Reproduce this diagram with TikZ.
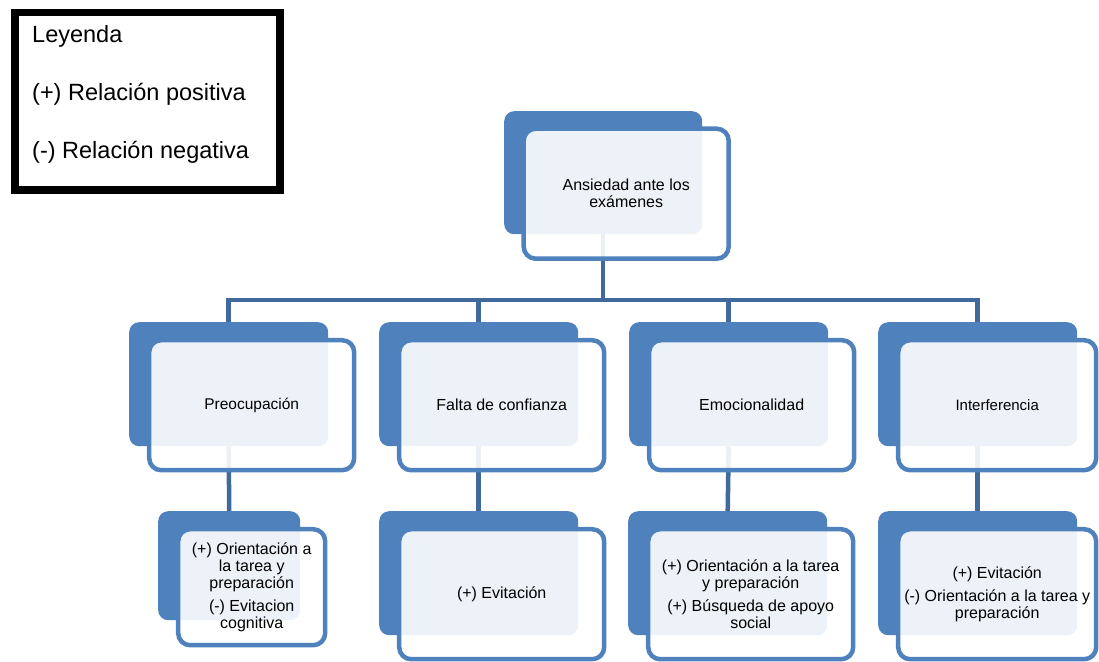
\documentclass[tikz,border=0pt]{standalone}
\usepackage{fontspec}
\setmainfont{Liberation Sans}
\definecolor{boxblue}{RGB}{79,129,189}
\definecolor{connblue}{RGB}{65,106,156}
\tikzset{
  back box/.style ={rectangle, rounded corners=10pt, fill=boxblue,
                    inner sep=0, anchor=north west,
                    minimum width=199pt, minimum height=124pt},
  front box/.style ={rectangle, rounded corners=12pt, draw=boxblue,
                     line width=4.5pt, fill=white, fill opacity=.9,
                     text opacity=1, align=center, inner sep=2pt,
                     minimum width=205pt, minimum height=130pt,
                     font=\fontsize{16}{17}\selectfont},
  conn/.style ={draw=connblue, line width=4.5pt, line join=miter},
  legend frame/.style ={rectangle, draw=black, line width=7.5pt,
                        anchor=north west, inner sep=0,
                        minimum width=265pt, minimum height=177pt},
  legend text/.style ={anchor=base west, inner sep=0,
                       font=\fontsize{23.5}{27}\selectfont},
}
\begin{document}
\begin{tikzpicture}[x=1pt,y=-1pt]
\useasboundingbox (0,0) rectangle (1099,661);
% leyenda
\node[legend frame] (legend) at (11,9) {};
\node[legend text] (ley0) at (32,42) {Leyenda};
\node[legend text] (ley1) at (32,100) {(+) Relación positiva};
\node[legend text] (ley2) at (32,158) {(-) Relación negativa};
% cajas de fondo
\node[back box, minimum width=198pt, minimum height=123pt] (ansiedad) at (504,111) {};
\node[back box] (preo) at (129,322) {};
\node[back box] (falta) at (379,322) {};
\node[back box] (emoc) at (629,322) {};
\node[back box] (inter) at (878,322) {};
\node[back box, minimum width=142pt, minimum height=109pt] (preo3) at (158,511) {};
\node[back box] (falta3) at (379,511) {};
\node[back box] (emoc3) at (628,511) {};
\node[back box] (inter3) at (878,511) {};
% conectores
\coordinate (bus) at (0,300);
\draw[conn] (ansiedad.south) -- (ansiedad.south |- bus);
\draw[conn] (preo.north) -- (preo.north |- bus) -- (inter.north |- bus) -- (inter.north);
\draw[conn] (falta.north) -- (falta.north |- bus);
\draw[conn] (emoc.north) -- (emoc.north |- bus);
\draw[conn] (preo.south) -- (preo3.north);
\draw[conn] (falta.south) -- (falta3.north);
\draw[conn] (emoc.south) -- (emoc3.north);
\draw[conn] (inter.south) -- (inter3.north);
% cajas de frente
\node[front box] (ansiedadT) at ([shift={(23,21)}]ansiedad.center) {Ansiedad ante los\\exámenes};
\node[front box, font=\fontsize{15.5}{17}\selectfont] (preoT) at ([shift={(23,21)}]preo.center) {Preocupación};
\node[front box] (faltaT) at ([shift={(23,21)}]falta.center) {Falta de confianza};
\node[front box] (emocT) at ([shift={(23,21)}]emoc.center) {Emocionalidad};
\node[front box, minimum width=198pt, font=\fontsize{15}{17}\selectfont] (interT) at ([shift={(19.5,21)}]inter.center) {Interferencia};
\node[front box, minimum width=147pt, minimum height=116pt] (preo3T) at ([shift={(22.5,21.5)}]preo3.center)
  {(+) Orientación a\\la tarea y\\preparación\\[6pt](-) Evitacion\\cognitiva};
\node[front box] (falta3T) at ([shift={(23,21)}]falta3.center) {(+) Evitación};
\node[front box] (emoc3T) at ([shift={(23,21)}]emoc3.center)
  {(+) Orientación a la tarea\\y preparación\\[6pt](+) Búsqueda de apoyo\\social};
\node[front box, minimum width=198pt] (inter3T) at ([shift={(19.5,21)}]inter3.center)
  {(+) Evitación\\[6pt](-) Orientación a la tarea y\\preparación};
\end{tikzpicture}
\end{document}
